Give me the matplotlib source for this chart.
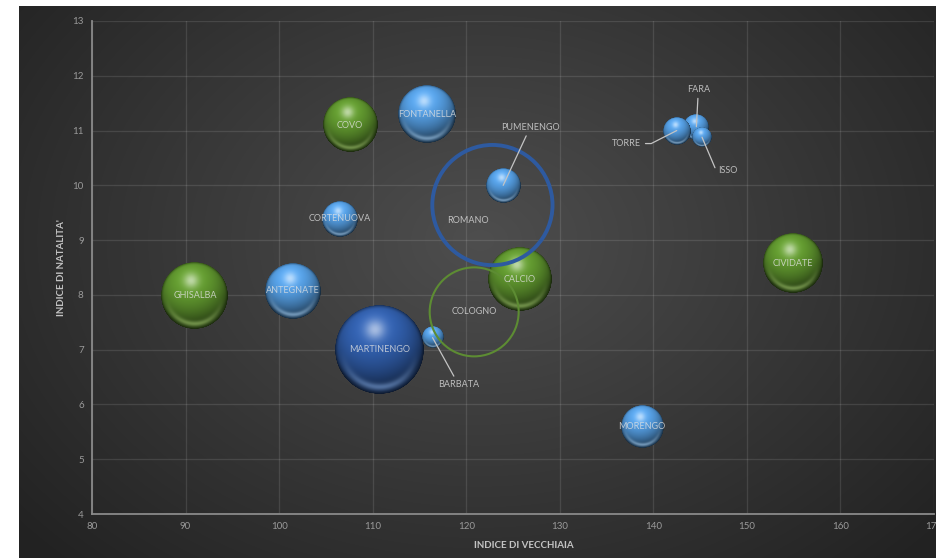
import numpy as np
import matplotlib
matplotlib.use("Agg")
import matplotlib.pyplot as plt
from matplotlib.offsetbox import OffsetImage, AnnotationBbox
from matplotlib.colors import to_rgb

plt.rcParams["font.family"] = ["Lato", "DejaVu Sans"]

# ---- data ---------------------------------------------------------------
comuni = ["GHISALBA", "ANTEGNATE", "CORTENUOVA", "COVO", "MARTINENGO",
          "FONTANELLA", "BARBATA", "COLOGNO", "ROMANO", "PUMENENGO",
          "CALCIO", "MORENGO", "FARA", "TORRE", "ISSO", "CIVIDATE"]
indice_vecchiaia = [91.0, 101.5, 106.5, 107.6, 110.7,
                    115.8, 116.4, 120.85, 122.8, 123.95,
                    125.7, 138.8, 144.6, 142.5, 145.2, 154.9]
indice_natalita = [7.98, 8.08, 9.39, 11.1, 7.0,
                   11.3, 7.22, 7.69, 9.64, 10.0,
                   8.29, 5.59, 11.07, 11.0, 10.88, 8.58]
popolazione = [5840, 4080, 1690, 3880, 10300,
               4320, 600, 10300, 18800, 1560,
               5230, 2330, 880, 1020, 520, 4680]
gruppo = ["verde", "azzurro", "azzurro", "verde", "blu",
          "azzurro", "azzurro", "anello_verde", "anello_blu", "azzurro",
          "verde", "azzurro", "azzurro", "azzurro", "azzurro", "verde"]

x_ticks = list(range(80, 171, 10))
y_ticks = list(range(4, 14))

# ---- styling -------------------------------------------------------------
DPI = 100
W, H = 936, 558
SCALA_RAGGIO = 0.4384          # bubble radius in pixels per sqrt(size)

colori_sfera = {
    "azzurro": ("#549cdf", "#acd6fa"),
    "verde": ("#5f952e", "#a6cc72"),
    "blu": ("#305da9", "#82a9e2"),
}
colori_anello = {
    "anello_blu": ("#2e5aa0", 2.8),
    "anello_verde": ("#5d8c33", 1.5),
}

# label placement: offset in pixels and leader-line shape
etichette = {
    "PUMENENGO": (27, 58, "arc3"),
    "BARBATA": (26, -47, "arc3"),
    "TORRE": (-50, -13, "angle,angleA=0,angleB=27,rad=0"),
    "FARA": (2, 37, "arc3"),
    "ISSO": (26, -33, "angle,angleA=0,angleB=113,rad=0"),
    "ROMANO": (-24, -15, None),
}

TESTO = "#e2e2e2"
LINEA = "#c4c4c4"


def sfera(colore, chiaro, raggio, ss=3):
    """RGBA image of a shaded glossy sphere of the given pixel radius."""
    n = max(int(round(2 * raggio * ss)), 4)
    u = (np.arange(n) + 0.5) / n * 2 - 1
    X, Y = np.meshgrid(u, u)            # Y grows downward
    r = np.hypot(X, Y)
    nz = np.sqrt(np.clip(1 - r ** 2, 0, 1))
    base = np.array(to_rgb(colore))
    light = np.array(to_rgb(chiaro))
    L = np.array([-0.15, -0.55, 0.82])
    L = L / np.linalg.norm(L)
    diff = np.clip(X * L[0] + Y * L[1] + nz * L[2], 0, 1)
    col = base[None, None, :] * (0.42 + 0.70 * diff[..., None])
    hl = np.exp(-((X + 0.10) ** 2 + (Y + 0.45) ** 2) / 0.05)
    col = col + (1 - col) * 0.55 * hl[..., None]
    rim = np.exp(-((r - 0.84) / 0.08) ** 2) * np.clip(Y / (r + 1e-6), 0, 1) ** 1.5
    col = col + (light - col) * 0.55 * rim[..., None]
    edge = np.clip((r - 0.9) / 0.1, 0, 1) ** 2
    col = col * (1 - 0.4 * edge[..., None])
    col = np.clip(col, 0, 1)
    alpha = np.clip((1 - r) * n / 2, 0, 1)
    return np.dstack([col, alpha]), ss


fig = plt.figure(figsize=(W / DPI, H / DPI), dpi=DPI)
fig.patch.set_facecolor("white")

# dark chart background with a soft radial gradient
bg = fig.add_axes([19 / W, 0, (W - 19) / W, (H - 6) / H])
gx = np.arange(19, W)
gy = np.arange(6, H)
GX, GY = np.meshgrid(gx, gy)
rr = np.hypot((GX - 480) / 540, (GY - 240) / 400)
val = 0x4e - (0x4e - 0x27) * np.clip(rr, 0, 1.25) / 1.0
val = np.clip(val, 0x22, 0x4e) / 255.0
bg.imshow(np.dstack([val, val, val]), aspect="auto", interpolation="bilinear")
bg.set_axis_off()

# plot area
left, right, top, bottom = 92, 934, 21, 514
ax = fig.add_axes([left / W, (H - bottom) / H, (right - left) / W, (bottom - top) / H])
ax.set_facecolor("none")
ax.set_xlim(80, 170)
ax.set_ylim(4, 13)
ax.set_xticks(x_ticks)
ax.set_yticks(y_ticks)
ax.grid(True, color="white", alpha=0.11, lw=0.9)
ax.set_axisbelow(True)
for s in ("top", "right"):
    ax.spines[s].set_visible(False)
for s in ("left", "bottom"):
    ax.spines[s].set_color("#8a8a8a")
    ax.spines[s].set_linewidth(1.3)
ax.tick_params(length=0, colors="#9a9a9a", labelsize=7, pad=6)

# bubbles
for i, (nome, xv, yv, pop, g) in enumerate(zip(comuni, indice_vecchiaia,
                                               indice_natalita, popolazione, gruppo)):
    raggio = SCALA_RAGGIO * np.sqrt(pop)
    if g in colori_anello:
        c, lw = colori_anello[g]
        ax.scatter([xv], [yv], s=(2 * raggio * 72 / DPI) ** 2, facecolors="none",
                   edgecolors=c, linewidths=lw, zorder=20 + i)
    else:
        base, chiaro = colori_sfera[g]
        img, ss = sfera(base, chiaro, raggio)
        ab = AnnotationBbox(OffsetImage(img, zoom=72 / (DPI * ss)), (xv, yv),
                            xycoords="data", frameon=False, pad=0)
        ab.set_zorder(5 + i)
        ax.add_artist(ab)

# labels
for nome, xv, yv in zip(comuni, indice_vecchiaia, indice_natalita):
    if nome in etichette:
        dx, dy, stile = etichette[nome]
        props = None
        if stile is not None:
            props = dict(arrowstyle="-", color=LINEA, lw=0.9,
                         shrinkA=1, shrinkB=0, connectionstyle=stile)
        ax.annotate(nome, (xv, yv), xytext=(dx, dy), textcoords="offset pixels",
                    ha="center", va="center", fontsize=6.5, color=TESTO, alpha=0.78,
                    arrowprops=props, zorder=60)
    else:
        ax.text(xv, yv, nome, ha="center", va="center", fontsize=6.5,
                color=TESTO, alpha=0.78, zorder=60)

# axis titles
fig.text(524 / W, 1 - 546 / H, "INDICE DI VECCHIAIA", ha="center", va="center",
         fontsize=7, fontweight="bold", color="#c4c4c4")
fig.text(62 / W, 1 - 268 / H, "INDICE DI NATALITA'", ha="center", va="center",
         rotation=90, fontsize=7, fontweight="bold", color="#c4c4c4")

fig.savefig("out.png", dpi=DPI)
